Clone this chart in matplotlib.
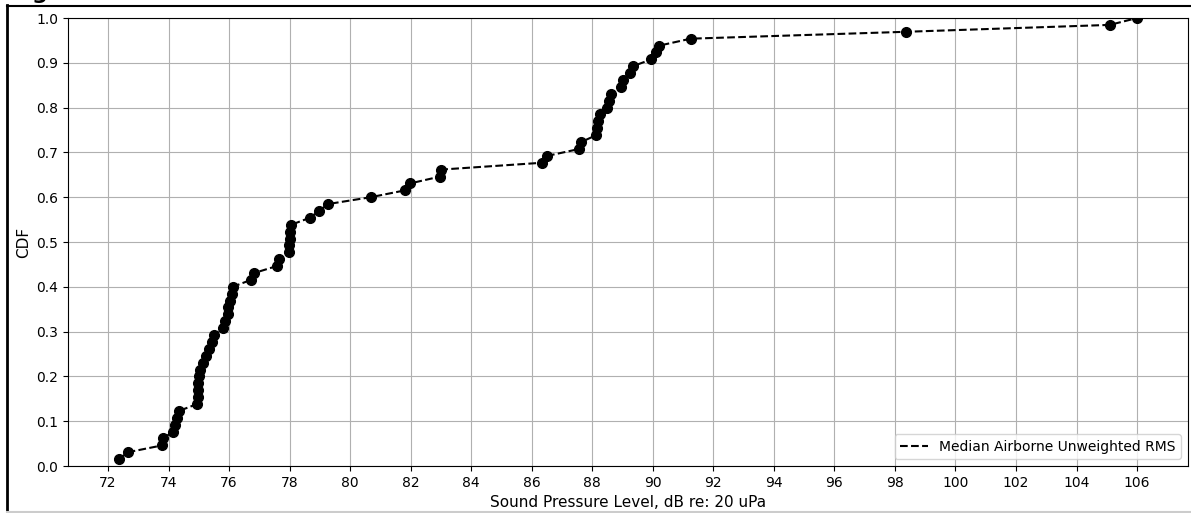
import numpy as np
import matplotlib
matplotlib.use("Agg")
import matplotlib.pyplot as plt
from matplotlib.lines import Line2D

# sorted median airborne unweighted RMS levels (dB re 20 uPa)
spl = [72.36, 72.66, 73.80, 73.82, 74.15, 74.20, 74.27, 74.35,
       74.95, 74.96, 74.97, 74.98, 74.99,
       75.05, 75.15, 75.25, 75.35, 75.45, 75.50,
       75.79, 75.87, 75.95, 75.97, 76.04, 76.08, 76.12,
       76.72, 76.83, 77.57, 77.66,
       77.97, 77.99, 78.00, 78.02, 78.05,
       78.66, 78.98, 79.26, 80.68, 81.82, 81.98, 82.98, 82.99,
       86.35, 86.52, 87.57, 87.63,
       88.13, 88.17, 88.20, 88.26, 88.48, 88.56, 88.61, 88.95, 89.00, 89.23, 89.34,
       89.95, 90.10, 90.22, 91.25, 98.37, 105.10, 106.00]
xticks = np.arange(72, 107, 2)
yticks = np.arange(0, 1.01, 0.1)

cdf = np.arange(1, len(spl) + 1) / len(spl)

fig = plt.figure(figsize=(11.91, 5.13), dpi=100)
ax = fig.add_axes([68/1191, 1 - 466/513, (1188-68)/1191, (466-18)/513])
ax.plot(spl, cdf, 'k--', label='Median Airborne Unweighted RMS')
ax.plot(spl, cdf, 'ko', markersize=7)
ax.set_ylim(0, 1)
ax.set_xticks(xticks)
ax.set_yticks(yticks)
ax.grid(True)
ax.set_xlabel('Sound Pressure Level, dB re: 20 uPa', fontsize=11)
ax.set_ylabel('CDF', fontsize=11)
ax.tick_params(labelsize=10)
ax.legend(loc='lower right', fontsize=10)

# screenshot frame around the figure
W, H = 1191, 513
fig.add_artist(Line2D([7/W, 7/W], [0, 1 - 5/H], color='black', lw=2))
fig.add_artist(Line2D([7/W, 1], [1 - 5.5/H, 1 - 5.5/H], color='black', lw=1.5))
fig.add_artist(Line2D([7/W, 1], [1.5/H, 1.5/H], color='#cccccc', lw=1.5))
fig.text(32/W, 1 + 1/H, 'g', fontsize=16, fontweight='bold', va='baseline')

fig.savefig('out.png', dpi=100)
